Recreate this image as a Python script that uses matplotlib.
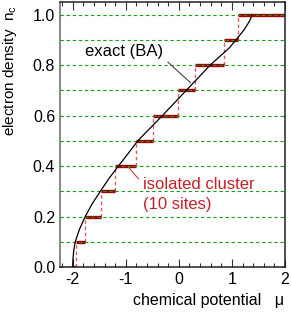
import numpy as np
import matplotlib
matplotlib.use("Agg")
from matplotlib import pyplot as plt
from matplotlib.ticker import MultipleLocator

plt.rcParams['font.family'] = ['Liberation Sans', 'DejaVu Sans']
plt.rcParams['mathtext.default'] = 'regular'
plt.rcParams['axes.unicode_minus'] = False

# exact (Bethe ansatz) density vs chemical potential
ba_n = [0.0, 0.02, 0.04, 0.067, 0.1, 0.15, 0.2, 0.25, 0.3, 0.35, 0.4, 0.45,
        0.5, 0.6, 0.7, 0.8, 0.868, 0.9, 0.94, 0.972, 0.99, 1.0]
ba_mu = [-2.0, -1.999, -1.993, -1.98, -1.953, -1.872, -1.765, -1.635, -1.48, -1.32, -1.14, -0.955,
         -0.775, -0.31, 0.14, 0.59, 0.95, 1.075, 1.23, 1.325, 1.365, 1.375]

# isolated 10-site cluster: density plateaus and the mu of each jump
cluster_n = [0.0, 0.1, 0.2, 0.3, 0.4, 0.5, 0.6, 0.7, 0.8, 0.9, 1.0]
cluster_steps = [-1.94, -1.77, -1.47, -1.21, -0.81, -0.49, -0.01, 0.31, 0.85, 1.11]
mu_start, mu_end = -2.03, 2.0

x_ticks = [-2, -1, 0, 1, 2]
y_ticks = [0.0, 0.2, 0.4, 0.6, 0.8, 1.0]
grid_levels = [0.1, 0.2, 0.3, 0.4, 0.5, 0.6, 0.7, 0.8, 0.9, 1.0]

fig = plt.figure(figsize=(2.91, 3.19), dpi=100)
ax = fig.add_axes([60 / 291, 1 - 267 / 319, 225 / 291, 265 / 319])

plateau_left = [mu_start] + cluster_steps
plateau_right = cluster_steps + [mu_end]
ax.vlines(cluster_steps, cluster_n[:-1], cluster_n[1:], colors='#e25a5a',
          linestyles=(0, (2.5, 2)), linewidth=1.0, zorder=1.5)
ax.hlines(cluster_n, plateau_left, plateau_right, colors='#a00000',
          linewidth=2.4, zorder=2, capstyle='butt')
for level in grid_levels:
    ax.axhline(level, color='#1f9a1f', linewidth=0.8, linestyle=(0, (3, 2.5)), zorder=2.5)
ax.plot(ba_mu, ba_n, color='black', linewidth=0.9, zorder=3)

ax.annotate('exact (BA)', xy=(0.22, 0.73), xytext=(-1.77, 0.853),
            fontsize=12, ha='left', va='center',
            arrowprops=dict(arrowstyle='-', color='#444444', lw=0.8,
                            relpos=(1.0, 0.1), shrinkA=2, shrinkB=0))
ax.annotate('isolated cluster\n(10 sites)', xy=(-0.95, 0.395), xytext=(-0.674, 0.287),
            fontsize=12, ha='left', va='center', color='#c8202a', linespacing=1.4,
            arrowprops=dict(arrowstyle='-', color='#d04040', lw=0.8,
                            relpos=(0.0, 0.8), shrinkA=2, shrinkB=0))

ax.set_xlim(-2.24, 2.0)
ax.set_ylim(0, 1.05)
ax.set_xticks(x_ticks)
ax.xaxis.set_minor_locator(MultipleLocator(0.2))
ax.set_yticks(y_ticks)
ax.set_yticklabels(['%.1f' % v for v in y_ticks])
ax.tick_params(axis='x', which='both', direction='in', top=True, bottom=True,
               labelsize=11.5, pad=3.5, color='#333333', width=0.8)
ax.tick_params(axis='x', which='major', length=5.5)
ax.tick_params(axis='x', which='minor', length=3.2)
ax.tick_params(axis='y', which='major', direction='in', left=True, right=True,
               labelsize=11.5, pad=3.5, length=2.5, color='#777777', width=0.8)
for side in ['top', 'right', 'bottom']:
    ax.spines[side].set_color('#222222')
    ax.spines[side].set_linewidth(1.1)
ax.spines['left'].set_color('#666666')
ax.spines['left'].set_linewidth(1.1)

fig.text(10 / 291, 1 - 5 / 319, 'electron density  n$_c$', rotation=90,
         ha='center', va='top', fontsize=11)
fig.text(209 / 291, 1 - 301 / 319, 'chemical potential   \u03bc',
         ha='center', va='center', fontsize=11.5)

fig.savefig('out.png', dpi=100)
